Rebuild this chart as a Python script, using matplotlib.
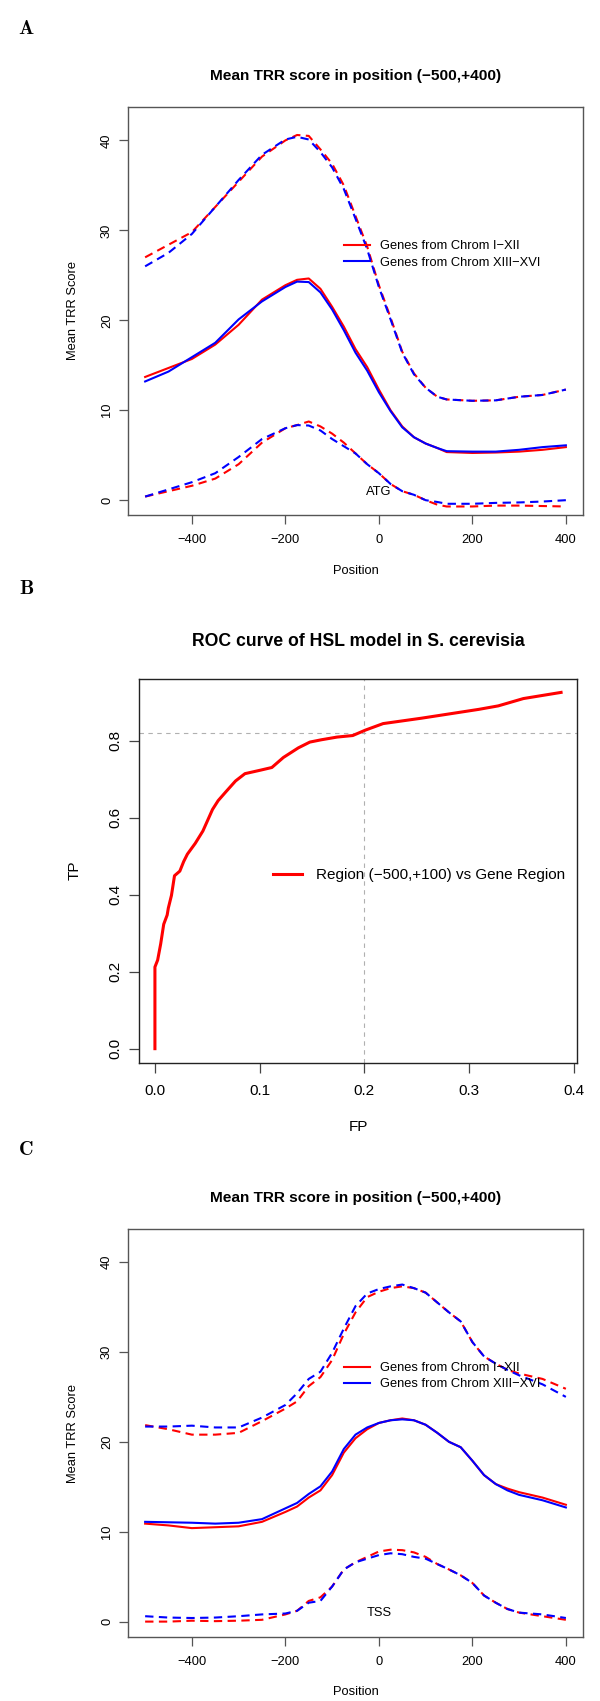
import matplotlib
matplotlib.use("Agg")
import matplotlib.pyplot as plt
import numpy as np

# ---------------- Data ----------------
# Panel A (around ATG)
posA = [-500, -450, -400, -350, -300, -250, -200, -175, -150, -125, -100, -75, -50, -25,
        0, 25, 50, 75, 100, 125, 145, 200, 250, 300, 350, 400]
A_red_mean = [13.7, 14.7, 15.7, 17.3, 19.5, 22.3, 23.9, 24.5, 24.65, 23.5, 21.5, 19.3, 16.8, 14.8,
              12.3, 10.0, 8.2, 7.0, 6.3, 5.8, 5.35, 5.25, 5.3, 5.4, 5.6, 5.9]
A_blue_mean = [13.2, 14.3, 15.9, 17.5, 20.1, 22.1, 23.7, 24.3, 24.25, 23.1, 21.2, 18.9, 16.4, 14.4,
               12.0, 9.9, 8.1, 7.0, 6.3, 5.8, 5.45, 5.4, 5.4, 5.6, 5.9, 6.1]
A_red_upper = [27.0, 28.4, 29.8, 32.6, 35.4, 38.2, 40.0, 40.6, 40.5, 39.0, 37.4, 35.0, 31.6, 28.2,
               23.9, 20.3, 16.5, 14.1, 12.5, 11.5, 11.2, 11.05, 11.1, 11.5, 11.7, 12.3]
A_blue_upper = [26.0, 27.5, 29.6, 32.6, 35.6, 38.4, 40.1, 40.4, 40.1, 38.7, 37.0, 34.6, 31.3, 27.9,
                23.7, 20.1, 16.4, 14.0, 12.5, 11.5, 11.2, 11.05, 11.1, 11.5, 11.7, 12.3]
A_red_lower = [0.4, 1.0, 1.6, 2.4, 4.0, 6.4, 8.0, 8.35, 8.75, 8.2, 7.4, 6.4, 5.2, 4.0,
               3.0, 1.8, 1.0, 0.6, 0.0, -0.5, -0.7, -0.7, -0.6, -0.6, -0.65, -0.7]
A_blue_lower = [0.4, 1.2, 2.0, 3.0, 4.8, 6.8, 8.0, 8.35, 8.3, 7.75, 6.8, 6.0, 5.2, 4.0,
                3.0, 1.8, 1.0, 0.6, 0.0, -0.2, -0.4, -0.4, -0.3, -0.25, -0.15, 0.0]

# Panel B (ROC)
roc_fp = [0.0, 0.0, 0.0026, 0.0055, 0.0084, 0.0117, 0.0128, 0.0158, 0.0187, 0.0238, 0.0275,
          0.031, 0.0385, 0.0458, 0.055, 0.0604, 0.0678, 0.077, 0.086, 0.1007, 0.1117, 0.1227,
          0.137, 0.148, 0.159, 0.174, 0.189, 0.201, 0.218, 0.2546, 0.3095, 0.328, 0.352, 0.388]
roc_tp = [0.0, 0.212, 0.23, 0.272, 0.323, 0.347, 0.365, 0.398, 0.449, 0.461, 0.486,
          0.505, 0.533, 0.565, 0.621, 0.644, 0.667, 0.695, 0.714, 0.723, 0.730, 0.756,
          0.781, 0.796, 0.802, 0.809, 0.813, 0.827, 0.844, 0.858, 0.881, 0.890, 0.909, 0.925]
roc_fp_cut = 0.2
roc_tp_cut = 0.82

# Panel C (around TSS)
posC = [-500, -450, -400, -350, -300, -250, -200, -175, -150, -125, -100, -75, -50, -25,
        0, 25, 50, 75, 100, 125, 150, 175, 200, 225, 250, 275, 300, 350, 400]
C_red_mean = [10.9, 10.7, 10.4, 10.5, 10.6, 11.1, 12.2, 12.8, 13.8, 14.6, 16.3, 18.8, 20.4, 21.4,
              22.1, 22.4, 22.6, 22.4, 21.9, 21.0, 20.0, 19.4, 17.9, 16.3, 15.3, 14.8, 14.4, 13.8, 13.0]
C_blue_mean = [11.1, 11.05, 11.0, 10.9, 11.0, 11.4, 12.6, 13.2, 14.2, 15.05, 16.7, 19.2, 20.8, 21.6,
               22.1, 22.4, 22.5, 22.4, 21.9, 21.0, 20.0, 19.4, 17.9, 16.3, 15.3, 14.6, 14.1, 13.5, 12.7]
C_red_upper = [21.86, 21.4, 20.8, 20.8, 21.0, 22.3, 23.7, 24.5, 26.2, 27.2, 29.1, 32.0, 34.4, 36.1,
               36.7, 37.1, 37.3, 37.1, 36.6, 35.5, 34.4, 33.4, 31.1, 29.5, 28.7, 28.0, 27.6, 27.0, 25.9]
C_blue_upper = [21.7, 21.7, 21.8, 21.6, 21.6, 22.7, 24.1, 25.4, 27.0, 27.8, 29.9, 32.6, 35.1, 36.5,
                37.0, 37.3, 37.5, 37.1, 36.6, 35.5, 34.4, 33.4, 31.1, 29.5, 28.7, 28.0, 27.4, 26.4, 25.0]
C_red_lower = [0.0, 0.0, 0.1, 0.05, 0.1, 0.2, 0.8, 1.2, 2.3, 2.7, 3.9, 5.8, 6.6, 7.2,
               7.8, 8.0, 7.95, 7.7, 7.2, 6.4, 5.8, 5.15, 4.3, 2.9, 2.1, 1.4, 1.0, 0.6, 0.2]
C_blue_lower = [0.6, 0.45, 0.4, 0.45, 0.6, 0.8, 0.9, 1.2, 2.1, 2.3, 3.9, 5.8, 6.6, 7.0,
                7.4, 7.6, 7.5, 7.2, 7.0, 6.4, 5.8, 5.15, 4.3, 2.9, 2.1, 1.4, 1.0, 0.8, 0.4]

legend_labels = ["Genes from Chrom I\u2212XII", "Genes from Chrom XIII\u2212XVI"]
roc_label = "Region (\u2212500,+100) vs Gene Region"
title_AC = "Mean TRR score in position (\u2212500,+400)"
title_B = "ROC curve of HSL model in S. cerevisia"

# ---------------- Figure ----------------
W, H = 600, 1701
DPI = 100
plt.rcParams['font.family'] = ['Liberation Sans', 'DejaVu Sans']
fig = plt.figure(figsize=(W / DPI, H / DPI), dpi=DPI)
fig.patch.set_facecolor('white')


def ax_at(left, top, right, bottom):
    return fig.add_axes([left / W, 1 - bottom / H, (right - left) / W, (bottom - top) / H])


def ftext(x, y, s, **kw):
    fig.text(x / W, 1 - y / H, s, **kw)


RED = '#ff0000'
BLUE = '#0000ff'
DASH = (0, (4, 2.6))
SPINE = '#555555'
FS = 9.3
LETTER_FONT = ['cmb10', 'DejaVu Serif']


def trr_panel(ax, pos, rm, bm, ru, bu, rl, bl, mark):
    ax.plot(pos, ru, color=RED, lw=1.5, ls=DASH)
    ax.plot(pos, bu, color=BLUE, lw=1.5, ls=DASH)
    ax.plot(pos, rl, color=RED, lw=1.5, ls=DASH)
    ax.plot(pos, bl, color=BLUE, lw=1.5, ls=DASH)
    l1, = ax.plot(pos, rm, color=RED, lw=1.5)
    l2, = ax.plot(pos, bm, color=BLUE, lw=1.5)
    ax.set_xlim(-536, 436)
    ax.set_ylim(-1.68, 43.68)
    ax.set_xticks([-400, -200, 0, 200, 400])
    ax.set_yticks([0, 10, 20, 30, 40])
    for s in ax.spines.values():
        s.set_color(SPINE)
        s.set_linewidth(1.0)
    ax.tick_params(axis='both', direction='out', length=6.5, width=0.9, color=SPINE,
                   labelsize=FS, labelcolor='black')
    ax.tick_params(axis='x', pad=7.2)
    ax.tick_params(axis='y', pad=4.5, labelrotation=90)
    for t in ax.get_yticklabels():
        t.set_va('center')
    ax.text(0, 0.95, mark, ha='center', va='center', fontsize=FS)
    ax.legend([l1, l2], legend_labels, loc='center left',
              bbox_to_anchor=(0.474, 0.639), frameon=False,
              fontsize=FS, handlelength=2.0, handletextpad=0.85, labelspacing=0.33,
              borderaxespad=0, borderpad=0)


# Panel A
axA = ax_at(128.3, 107.3, 582.7, 515.3)
trr_panel(axA, posA, A_red_mean, A_blue_mean, A_red_upper, A_blue_upper,
          A_red_lower, A_blue_lower, 'ATG')
ftext(355.5, 76, title_AC, ha='center', va='center', fontsize=11.1, fontweight='bold')
ftext(355.5, 571, 'Position', ha='center', va='center', fontsize=FS)
ftext(73, 311, 'Mean TRR Score', ha='center', va='center', fontsize=FS, rotation=90)
ftext(26, 28.6, 'A', ha='center', va='center', fontsize=14.5, family=LETTER_FONT,
      fontweight='bold')

# Panel B
axB = ax_at(138.7, 679.3, 577.3, 1063.3)
axB.axvline(roc_fp_cut, color='#b0b0b0', lw=0.8, ls=(0, (4, 4)))
axB.axhline(roc_tp_cut, color='#b0b0b0', lw=0.8, ls=(0, (4, 4)))
lb, = axB.plot(roc_fp, roc_tp, color=RED, lw=2.2)
axB.set_xlim(-0.0155, 0.4035)
axB.set_ylim(-0.038, 0.959)
axB.set_xticks([0.0, 0.1, 0.2, 0.3, 0.4])
axB.set_xticklabels(['0.0', '0.1', '0.2', '0.3', '0.4'])
axB.set_yticks([0.0, 0.2, 0.4, 0.6, 0.8])
axB.set_yticklabels(['0.0', '0.2', '0.4', '0.6', '0.8'])
for s in axB.spines.values():
    s.set_color('#222222')
    s.set_linewidth(1.0)
axB.tick_params(axis='both', direction='out', length=7.5, width=0.9, color='#444444',
                labelsize=11, labelcolor='black')
axB.tick_params(axis='x', pad=7.5)
axB.tick_params(axis='y', pad=4.5, labelrotation=90)
for t in axB.get_yticklabels():
    t.set_va('center')
axB.legend([lb], [roc_label], loc='center left', bbox_to_anchor=(0.306, 0.490),
           frameon=False, fontsize=11, handlelength=1.9, handletextpad=0.9,
           borderaxespad=0, borderpad=0)
ftext(358.5, 642, title_B, ha='center', va='center', fontsize=12.7, fontweight='bold')
ftext(358, 1127, 'FP', ha='center', va='center', fontsize=11)
ftext(74.7, 870, 'TP', ha='center', va='center', fontsize=11, rotation=90)
ftext(26, 589, 'B', ha='center', va='center', fontsize=14.5, family=LETTER_FONT,
      fontweight='bold')

# Panel C
axC = ax_at(128.3, 1229, 582.7, 1636.7)
trr_panel(axC, posC, C_red_mean, C_blue_mean, C_red_upper, C_blue_upper,
          C_red_lower, C_blue_lower, 'TSS')
ftext(355.5, 1198, title_AC, ha='center', va='center', fontsize=11.1, fontweight='bold')
ftext(355.5, 1692, 'Position', ha='center', va='center', fontsize=FS)
ftext(73, 1433, 'Mean TRR Score', ha='center', va='center', fontsize=FS, rotation=90)
ftext(26, 1149.6, 'C', ha='center', va='center', fontsize=14.5, family=LETTER_FONT,
      fontweight='bold')

fig.savefig('out.png', dpi=DPI, facecolor='white')
